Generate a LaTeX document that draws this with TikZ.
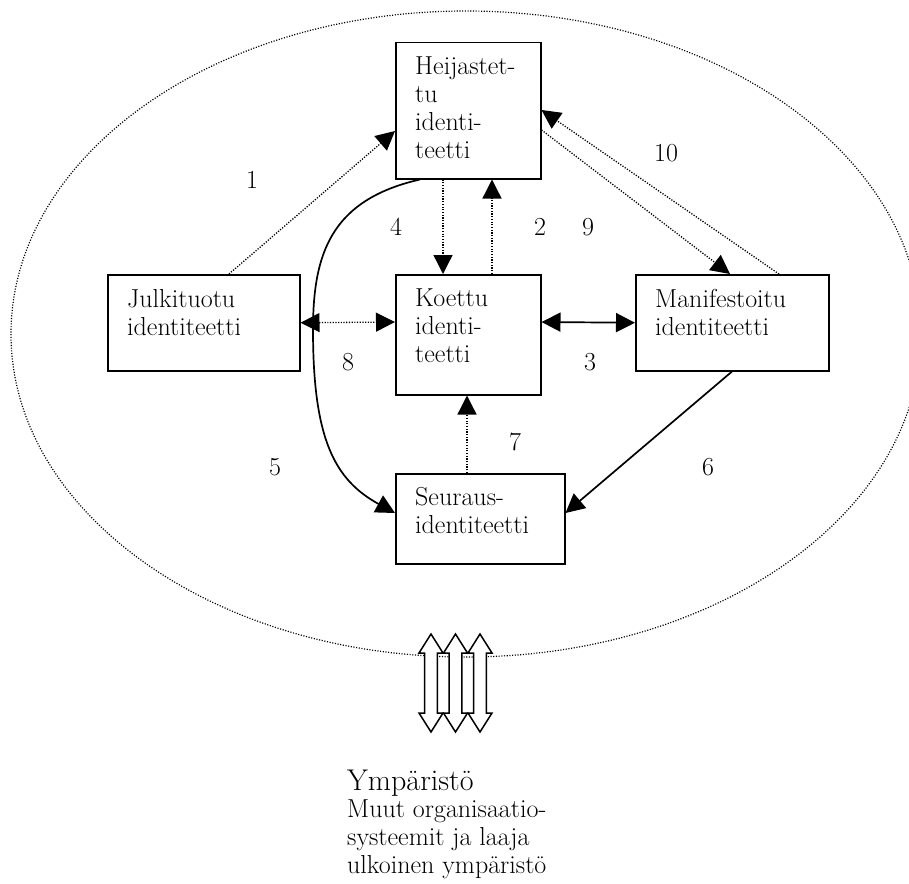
\documentclass[tikz,border=0pt]{standalone}
\usepackage{fontspec}
\usetikzlibrary{arrows.meta,calc}
\begin{document}
\begin{tikzpicture}[x=1pt,y=-1pt,
  box/.style={draw, line width=1.5pt, rectangle, inner sep=0pt, anchor=north west},
  txt/.style={font=\fontsize{26}{28}\selectfont, align=left, inner sep=0pt, anchor=north west},
  num/.style={font=\fontsize{26}{28}\selectfont, inner sep=0pt},
  dotline/.style={line width=1.3pt, dash pattern=on 1.2pt off 1.5pt},
  solidline/.style={line width=1.7pt},
  tipend/.style={-{Triangle[length=19pt,width=19pt]}},
  tipboth/.style={{Triangle[length=19pt,width=19pt]}-{Triangle[length=19pt,width=19pt]}},
  blockarrow/.style={draw, fill=white, line width=1.5pt, line join=miter}
]
\useasboundingbox (0,0) rectangle (909,883);
\begin{scope}
\clip (0,0) rectangle (909,883);
\draw[line width=1.2pt, dash pattern=on 1.1pt off 1.6pt] (466,334) ellipse [x radius=455pt, y radius=323pt];
\end{scope}

% boxes
\node[box, minimum width=145pt, minimum height=136pt] (H) at (395,42) {};
\node[box, minimum width=192pt, minimum height=96pt] (J) at (107,274) {};
\node[box, minimum width=145pt, minimum height=120pt] (K) at (395,274) {};
\node[box, minimum width=193pt, minimum height=96pt] (M) at (635,274) {};
\node[box, minimum width=169pt, minimum height=90pt] (S) at (395,473) {};

% texts
\node[txt] (Ht) at ($(H.north west)+(20,15)$) {Heijastet-\\tu\\identi-\\teetti};
\node[txt] (Jt) at ($(J.north west)+(20,15)$) {Julkituotu\\identiteetti};
\node[txt] (Kt) at ($(K.north west)+(20,15)$) {Koettu\\identi-\\teetti};
\node[txt] (Mt) at ($(M.north west)+(20,15)$) {Manifestoitu\\identiteetti};
\node[txt] (St) at ($(S.north west)+(20,14)$) {Seuraus-\\identiteetti};

% connectors
\draw[dotline, tipend] ($(J.north west)+(122,0)$) -- ($(H.north west)+(0,89)$);
\draw[dotline, tipend] ($(K.north west)+(97,0)$) -- ($(H.south west)+(97,0)$);
\draw[dotline, tipend] ($(H.south west)+(48,0)$) -- ($(K.north west)+(48,0)$);
\draw[dotline, tipend] ($(H.north east)+(0,88)$) -- ($(M.north west)+(95,0)$);
\draw[dotline, tipend] ($(M.north west)+(144,0)$) -- ($(H.north east)+(0,68)$);
\draw[solidline, tipboth] ($(K.north east)+(0,48)$) -- (M.west);
\draw[dotline, tipboth] (J.east) -- ($(K.north west)+(0,48)$);
\draw[solidline, tipend] ($(H.south west)+(25,0)$) .. controls (330,200) and (313,255) .. (313,330)
  .. controls (313,440) and (335,480) .. ($(S.north west)+(0,40)$);
\draw[solidline, tipend] ($(M.south west)+(97,0)$) -- ($(S.north east)+(0,40)$);
\draw[dotline, tipend] ($(S.north west)+(72,0)$) -- ($(K.south west)+(72,0)$);

% labels
\node[num] (n1) at (252,180) {1};
\node[num] (n2) at (540,227) {2};
\node[num] (n3) at (590,362) {3};
\node[num] (n4) at (396,227) {4};
\node[num] (n5) at (275,467) {5};
\node[num] (n6) at (708,467) {6};
\node[num] (n7) at (515,442) {7};
\node[num] (n8) at (348,362) {8};
\node[num] (n9) at (588,227) {9};
\node[num] (n10) at (666,153) {10};

% environment arrows
\foreach \c in {431,455.5,480}
  \draw[blockarrow] (\c,634) -- ++(12,19) -- ++(-5.6,0) -- ++(0,60) -- ++(5.6,0)
    -- ++(-12,19) -- ++(-12,-19) -- ++(5.6,0) -- ++(0,-60) -- ++(-5.6,0) -- cycle;

% environment text
\node[font=\fontsize{30}{32}\selectfont, inner sep=0pt, anchor=base west] (env) at (347,790) {Ympäristö};
\node[txt] (envt) at (347,800) {Muut organisaatio-\\systeemit ja laaja\\ulkoinen ympäristö};
\end{tikzpicture}
\end{document}
